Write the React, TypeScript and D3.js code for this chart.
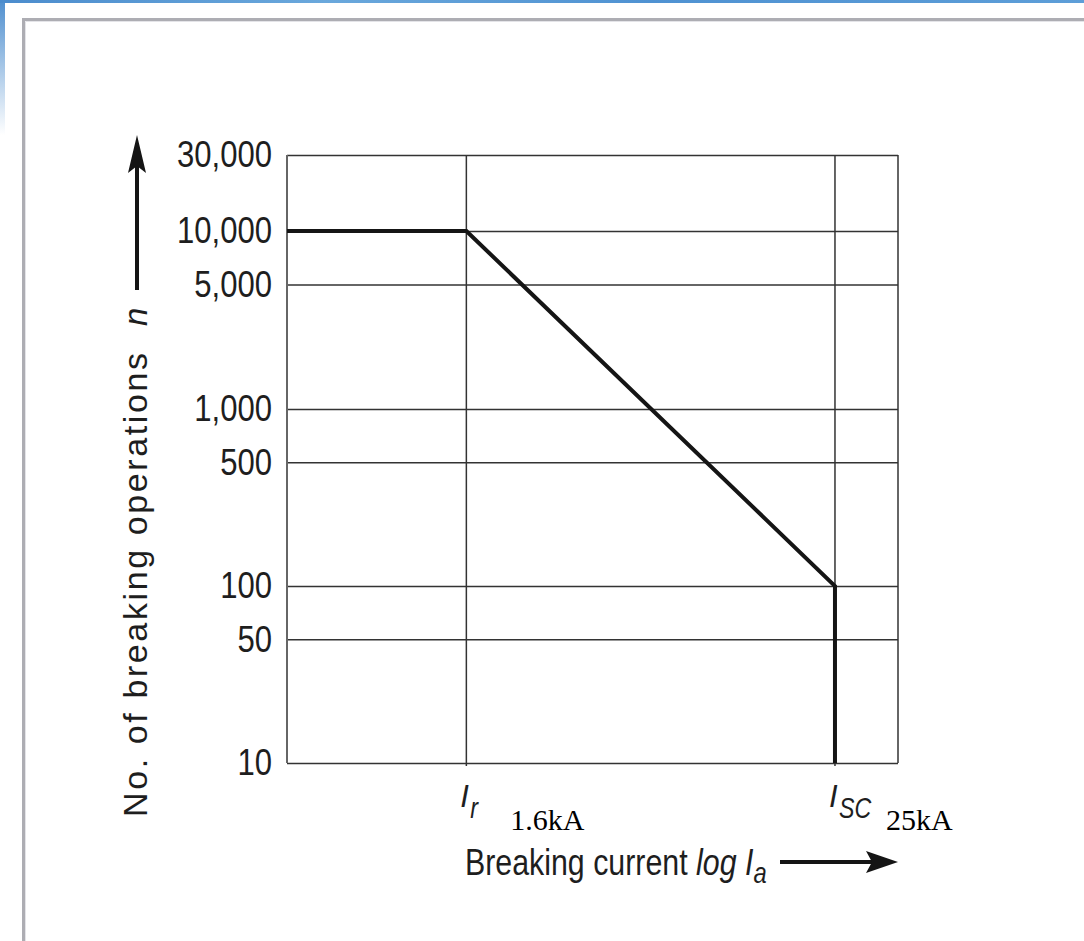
import React, { useEffect, useRef } from 'react';
import * as d3 from 'd3';

// breakpoints of the endurance curve (current in kA, number of operations)
const currentKA = [0.42, 1.6, 25, 25];
const operations = [10000, 10000, 100, 10];

// y axis ticks
const yTicks = [10, 50, 100, 500, 1000, 5000, 10000, 30000];
const yTickLabels = ['10', '50', '100', '500', '1,000', '5,000', '10,000', '30,000'];

// marked currents on the x axis
const markValues = [1.6, 25];
const markSubs = ['r', 'SC'];
const markLabels = ['1.6kA', '25kA'];

const SANS = '"Liberation Sans", Arial, Helvetica, sans-serif';

// squeeze a text horizontally, the source uses a condensed Helvetica
function squeeze(sel: any, k: number) {
    sel.each(function (this: any) {
        const w = this.getComputedTextLength();
        d3.select(this)
            .attr('textLength', w * k)
            .attr('lengthAdjust', 'spacingAndGlyphs');
    });
}

const App = () => {
    const ref = useRef<SVGSVGElement | null>(null);

    useEffect(() => {
        const svg = d3.select(ref.current);
        svg.selectAll('*').remove();

        const width = 1084;
        const height = 941;
        const left = 287, right = 898, top = 155, bottom = 763;

        // page frame
        const defs = svg.append('defs');
        const grad = defs.append('linearGradient')
            .attr('id', 'leftfade').attr('x1', 0).attr('y1', 0).attr('x2', 0).attr('y2', 1);
        grad.append('stop').attr('offset', '0%').attr('stop-color', '#4f8fcf');
        grad.append('stop').attr('offset', '100%').attr('stop-color', '#ffffff');
        const gradTop = defs.append('linearGradient')
            .attr('id', 'topband').attr('x1', 0).attr('y1', 0).attr('x2', 1).attr('y2', 0);
        gradTop.append('stop').attr('offset', '0%').attr('stop-color', '#4b8ccd');
        gradTop.append('stop').attr('offset', '30%').attr('stop-color', '#6aa8dc');
        gradTop.append('stop').attr('offset', '60%').attr('stop-color', '#4f92d2');
        gradTop.append('stop').attr('offset', '100%').attr('stop-color', '#5d9ed8');

        svg.append('rect').attr('width', width).attr('height', height).attr('fill', '#fff');
        svg.append('rect').attr('x', 0).attr('y', 0).attr('width', 5).attr('height', 135)
            .attr('fill', 'url(#leftfade)');
        svg.append('rect').attr('x', 0).attr('y', 0).attr('width', width).attr('height', 3)
            .attr('fill', 'url(#topband)');
        svg.append('path')
            .attr('d', `M23.5,${height} V19.5 H${width}`)
            .attr('fill', 'none').attr('stroke', '#adadb3').attr('stroke-width', 3);
        svg.append('path')
            .attr('d', `M25.5,${height} V21.5 H${width}`)
            .attr('fill', 'none').attr('stroke', '#e4e4e8').attr('stroke-width', 1);

        // scales
        const xScale = d3.scaleLog().domain([0.42, 40]).range([left, right]);
        const yScale = d3.scaleLog()
            .domain([10, 100, 1000, 10000, 30000])
            .range([bottom, 586, 409, 231, top]);

        const g = svg.append('g');

        // horizontal grid + tick labels
        const yAxis = d3.axisLeft(yScale)
            .tickValues(yTicks)
            .tickFormat((d, i) => yTickLabels[i])
            .tickSizeInner(-(right - left))
            .tickSizeOuter(0)
            .tickPadding(15);

        const ya = g.append('g')
            .attr('transform', `translate(${left},0)`)
            .call(yAxis);
        ya.select('.domain').remove();
        ya.selectAll('.tick line').attr('stroke', '#333').attr('stroke-width', 1.5);
        const tickText = ya.selectAll('.tick text')
            .attr('font-family', SANS)
            .attr('font-size', 37)
            .attr('fill', '#1e1e1e');
        squeeze(tickText, 0.84);

        // left axis line and right border
        g.append('line')
            .attr('x1', left).attr('x2', left).attr('y1', top).attr('y2', bottom)
            .attr('stroke', '#666').attr('stroke-width', 2);
        g.append('line')
            .attr('x1', right).attr('x2', right).attr('y1', top).attr('y2', bottom)
            .attr('stroke', '#333').attr('stroke-width', 1.5);

        // vertical lines at Ir and Isc
        g.selectAll('.vline')
            .data(markValues)
            .enter()
            .append('line')
            .attr('x1', d => xScale(d)).attr('x2', d => xScale(d))
            .attr('y1', top).attr('y2', bottom + 3)
            .attr('stroke', '#333').attr('stroke-width', 1.5);

        // endurance curve
        const line = d3.line<number>()
            .x((d, i) => xScale(currentKA[i]))
            .y(d => yScale(d));
        g.append('path')
            .datum(operations)
            .attr('d', line)
            .attr('fill', 'none')
            .attr('stroke', '#151515')
            .attr('stroke-width', 4);

        // I labels under the marks
        const marks = g.selectAll('.mark')
            .data(markValues)
            .enter()
            .append('g');
        marks.append('text')
            .attr('x', d => xScale(d) - 6)
            .attr('y', 807)
            .attr('font-family', SANS)
            .attr('font-style', 'italic')
            .attr('font-size', 31)
            .attr('fill', '#1e1e1e')
            .text('I');
        const subs = marks.append('text')
            .attr('x', d => xScale(d) + 4)
            .attr('y', 818)
            .attr('font-family', SANS)
            .attr('font-style', 'italic')
            .attr('font-size', 29)
            .attr('fill', '#1e1e1e')
            .text((d, i) => markSubs[i]);
        squeeze(subs, 0.8);
        marks.append('text')
            .attr('x', (d, i) => xScale(d) + (i === 0 ? 44 : 51))
            .attr('y', 830)
            .attr('font-family', '"Liberation Serif", "Times New Roman", serif')
            .attr('font-size', 30)
            .attr('fill', '#000')
            .text((d, i) => markLabels[i]);

        // x axis title
        const xt = svg.append('text')
            .attr('x', 465)
            .attr('y', 875)
            .attr('font-family', SANS)
            .attr('font-size', 37)
            .attr('fill', '#1e1e1e');
        xt.append('tspan').text('Breaking current ');
        xt.append('tspan').attr('font-style', 'italic').text('log I');
        xt.append('tspan').attr('font-style', 'italic').attr('font-size', 29).attr('dy', 8).text('a');
        squeeze(xt, 0.82);

        svg.append('line')
            .attr('x1', 780).attr('x2', 872).attr('y1', 862).attr('y2', 862)
            .attr('stroke', '#151515').attr('stroke-width', 4);
        svg.append('path')
            .attr('d', 'M898,862 L866,851 L872,862 L866,873 Z')
            .attr('fill', '#151515');

        // y axis title
        svg.append('text')
            .attr('transform', 'translate(147,817) rotate(-90)')
            .attr('font-family', SANS)
            .attr('font-size', 34)
            .attr('textLength', 464)
            .attr('lengthAdjust', 'spacing')
            .attr('fill', '#1e1e1e')
            .text('No. of breaking operations');
        svg.append('text')
            .attr('transform', 'translate(147,326) rotate(-90)')
            .attr('font-family', SANS)
            .attr('font-style', 'italic')
            .attr('font-size', 33)
            .attr('fill', '#1e1e1e')
            .text('n');

        svg.append('line')
            .attr('x1', 137).attr('x2', 137).attr('y1', 290).attr('y2', 165)
            .attr('stroke', '#151515').attr('stroke-width', 4);
        svg.append('path')
            .attr('d', 'M137,135 L128,173 L137,166 L146,173 Z')
            .attr('fill', '#151515');
    }, []);

    return (
        <svg ref={ref} width={1084} height={941}
             style={{ position: 'absolute', left: 0, top: 0, display: 'block' }} />
    );
};

export default App;
